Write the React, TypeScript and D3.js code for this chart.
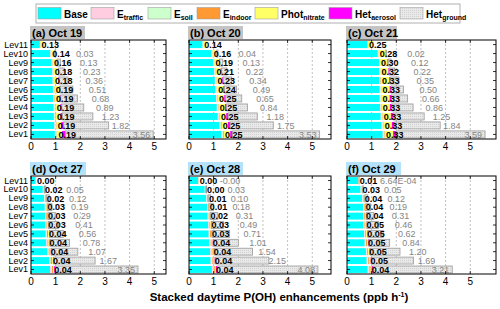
import React from "react";
import * as d3 from "d3";

const LEVELS = ["Lev1", "Lev2", "Lev3", "Lev4", "Lev5", "Lev6", "Lev7", "Lev8", "Lev9", "Lev10", "Lev11"];
const PANEL_TITLES = ["(a) Oct 19", "(b) Oct 20", "(c) Oct 21", "(d) Oct 27", "(e) Oct 28", "(f)  Oct 29"];
const X_TICKS = [0, 1, 2, 3, 4, 5];

// values per panel (a..f), each listed Lev1..Lev11
const baseVals = [
  [0.97, 0.95, 0.93, 0.92, 0.90, 0.89, 0.88, 0.87, 0.84, 0.78, 0.36],
  [1.30, 1.22, 1.17, 1.13, 1.10, 1.08, 1.05, 1.02, 0.98, 0.92, 0.55],
  [1.45, 1.40, 1.37, 1.34, 1.33, 1.33, 1.32, 1.31, 1.30, 1.25, 0.82],
  [0.78, 0.73, 0.66, 0.62, 0.60, 0.59, 0.58, 0.56, 0.53, 0.48, 0.17],
  [0.93, 0.88, 0.86, 0.83, 0.80, 0.78, 0.76, 0.73, 0.70, 0.64, 0.37],
  [0.84, 0.80, 0.77, 0.72, 0.69, 0.67, 0.66, 0.65, 0.62, 0.55, 0.45],
];
const trafficVals = [
  [0.04, 0.04, 0.03, 0.03, 0.03, 0.03, 0.02, 0.02, 0.02, 0.02, 0.01],
  [0.05, 0.04, 0.04, 0.03, 0.03, 0.03, 0.03, 0.02, 0.02, 0.02, 0.01],
  [0.04, 0.04, 0.03, 0.03, 0.03, 0.03, 0.02, 0.02, 0.02, 0.02, 0.01],
  [0.04, 0.04, 0.03, 0.03, 0.03, 0.02, 0.02, 0.02, 0.02, 0.02, 0.01],
  [0.04, 0.04, 0.03, 0.03, 0.03, 0.03, 0.02, 0.02, 0.02, 0.02, 0.01],
  [0.04, 0.03, 0.03, 0.03, 0.03, 0.02, 0.02, 0.02, 0.02, 0.01, 0.01],
];
const soilVals = [
  [0.04, 0.03, 0.03, 0.03, 0.02, 0.02, 0.02, 0.02, 0.02, 0.01, 0.01],
  [0.04, 0.04, 0.03, 0.03, 0.03, 0.02, 0.02, 0.02, 0.02, 0.01, 0.01],
  [0.03, 0.03, 0.03, 0.02, 0.02, 0.02, 0.02, 0.02, 0.01, 0.01, 0.01],
  [0.03, 0.03, 0.03, 0.02, 0.02, 0.02, 0.02, 0.02, 0.02, 0.01, 0.01],
  [0.03, 0.03, 0.03, 0.02, 0.02, 0.02, 0.02, 0.02, 0.02, 0.01, 0.01],
  [0.03, 0.03, 0.02, 0.02, 0.02, 0.02, 0.02, 0.02, 0.01, 0.01, 0.01],
];
const indoorVals = [
  [0.02, 0.02, 0.02, 0.02, 0.02, 0.02, 0.01, 0.01, 0.01, 0.01, 0.01],
  [0.03, 0.03, 0.02, 0.02, 0.02, 0.02, 0.02, 0.02, 0.01, 0.01, 0.01],
  [0.02, 0.02, 0.02, 0.02, 0.02, 0.02, 0.02, 0.01, 0.01, 0.01, 0.01],
  [0.05, 0.05, 0.04, 0.04, 0.04, 0.03, 0.03, 0.03, 0.03, 0.02, 0.01],
  [0.05, 0.05, 0.04, 0.04, 0.04, 0.04, 0.03, 0.03, 0.03, 0.02, 0.01],
  [0.05, 0.05, 0.04, 0.04, 0.04, 0.04, 0.03, 0.03, 0.03, 0.02, 0.01],
];
const photVals = [
  [0.19, 0.19, 0.19, 0.19, 0.19, 0.19, 0.18, 0.18, 0.16, 0.14, 0.13],
  [0.25, 0.25, 0.25, 0.25, 0.25, 0.24, 0.23, 0.21, 0.19, 0.16, 0.14],
  [0.33, 0.33, 0.33, 0.33, 0.33, 0.33, 0.33, 0.32, 0.30, 0.28, 0.25],
  [0.04, 0.04, 0.04, 0.04, 0.04, 0.03, 0.03, 0.03, 0.02, 0.02, 0.00],
  [0.04, 0.04, 0.04, 0.04, 0.03, 0.03, 0.02, 0.01, 0.01, 0.00, 0.00],
  [0.04, 0.05, 0.05, 0.05, 0.05, 0.05, 0.04, 0.04, 0.04, 0.03, 0.01],
];
const aerosolVals = [
  [0.14, 0.10, 0.08, 0.06, 0.05, 0.04, 0.03, 0.02, 0.01, 0.00, 0.00],
  [0.10, 0.09, 0.08, 0.07, 0.06, 0.05, 0.04, 0.03, 0.02, 0.01, 0.00],
  [0.14, 0.12, 0.10, 0.08, 0.07, 0.06, 0.05, 0.04, 0.03, 0.01, 0.00],
  [0.05, 0.04, 0.03, 0.03, 0.02, 0.01, 0.01, 0.00, 0.00, 0.00, 0.00],
  [0.06, 0.05, 0.04, 0.03, 0.02, 0.01, 0.01, 0.00, 0.00, 0.00, 0.00],
  [0.06, 0.05, 0.04, 0.03, 0.02, 0.01, 0.01, 0.00, 0.00, 0.00, 0.00],
];
const groundVals: (number | null)[][] = [
  [3.56, 1.82, 1.23, 0.89, 0.68, 0.51, 0.36, 0.23, 0.13, 0.03, null],
  [3.53, 1.75, 1.18, 0.84, 0.65, 0.49, 0.34, 0.22, 0.13, 0.04, null],
  [3.59, 1.84, 1.25, 0.86, 0.66, 0.50, 0.35, 0.22, 0.12, 0.02, null],
  [3.35, 1.67, 1.07, 0.78, 0.56, 0.41, 0.29, 0.19, 0.12, 0.05, null],
  [4.08, 2.15, 1.54, 1.01, 0.71, 0.49, 0.31, 0.18, 0.10, 0.03, -0.001],
  [3.21, 1.69, 1.20, 0.84, 0.62, 0.46, 0.31, 0.19, 0.12, 0.05, 0.000664],
];

const SERIES = [
  { key: "Base", sub: "", color: "#00ffff", vals: baseVals },
  { key: "E", sub: "traffic", color: "#ffcce0", vals: trafficVals },
  { key: "E", sub: "soil", color: "#ccffcc", vals: soilVals },
  { key: "E", sub: "indoor", color: "#ff9933", vals: indoorVals },
  { key: "Phot", sub: "nitrate", color: "#ffff66", vals: photVals },
  { key: "Het", sub: "aerosol", color: "#ff00ff", vals: aerosolVals },
];

const FONT = "Arial, 'Liberation Sans', Helvetica, sans-serif";
const PX_PER_UNIT = 24.65;
const COLS = [
  { x0: 31, x1: 166 },
  { x0: 189, x1: 331 },
  { x0: 347, x1: 496 },
];
const ROWS = [
  { top: 40, bottom: 139, titleFill: "#c4c4c4" },
  { top: 176, bottom: 274, titleFill: "#b4e2fa" },
];
const TITLE_W = [55, 55, 51, 56, 55, 55];

function fmtGround(v: number) {
  if (v !== 0 && Math.abs(v) < 0.005 && v > 0) {
    const [m, e] = v.toExponential(2).split("e");
    const ex = parseInt(e, 10);
    const sign = ex < 0 ? "-" : "+";
    return `${m}E${sign}${String(Math.abs(ex)).padStart(2, "0")}`;
  }
  return v.toFixed(2);
}

function Panel({ idx }: { idx: number }) {
  const col = COLS[idx % 3];
  const row = ROWS[Math.floor(idx / 3)];
  const x = d3.scaleLinear().domain([0, 5]).range([col.x0, col.x0 + 5 * PX_PER_UNIT]);
  const y = d3
    .scaleBand<string>()
    .domain([...LEVELS].reverse())
    .range([row.top, row.bottom])
    .paddingInner(0.22)
    .paddingOuter(0.12);
  const bh = y.bandwidth();
  const showY = idx % 3 === 0;

  return (
    <g>
      {/* title */}
      <rect x={col.x0 - 1} y={row.top - 14} width={TITLE_W[idx]} height={13} fill={row.titleFill} />
      <text x={col.x0 + 1} y={row.top - 3.5} fontSize={11} fontWeight="bold" fontFamily={FONT}>
        {PANEL_TITLES[idx]}
      </text>
      {/* grid */}
      {X_TICKS.slice(1).map((t) => (
        <line key={t} x1={x(t)} x2={x(t)} y1={row.top} y2={row.bottom} stroke="#b0b0b0" strokeDasharray="2,2" strokeWidth={0.8} />
      ))}
      {/* bars */}
      {LEVELS.map((lev, li) => {
        const yy = y(lev)!;
        let cum = 0;
        const segs = SERIES.map((s, si) => {
          const v = s.vals[idx][li];
          const x0 = cum;
          cum += v;
          return (
            <rect key={si} x={x(x0)} y={yy} width={Math.max(0, x(cum) - x(x0))} height={bh} fill={s.color} />
          );
        });
        const photStart = baseVals[idx][li] + trafficVals[idx][li] + soilVals[idx][li] + indoorVals[idx][li];
        const gStart = cum;
        const g = groundVals[idx][li];
        const gv = g === null ? 0 : Math.max(0, g);
        const gEnd = gStart + gv;
        let glabel = null;
        if (g !== null) {
          if (g > 3) {
            glabel = (
              <text x={x(gEnd) - 3} y={yy + bh / 2 + 3.2} textAnchor="end" fontSize={9} fill="#858585" fontFamily={FONT}>
                {fmtGround(g)}
              </text>
            );
          } else {
            glabel = (
              <text x={x(gStart + 0.85 + 0.6 * Math.max(0, g))} y={yy + bh / 2 + 3.2} fontSize={9} fill="#858585" fontFamily={FONT}>
                {fmtGround(g)}
              </text>
            );
          }
        }
        return (
          <g key={lev}>
            {segs}
            {gv > 0 && (
              <rect x={x(gStart)} y={yy} width={x(gEnd) - x(gStart)} height={bh} fill="url(#dots)" stroke="#9a9a9a" strokeWidth={0.8} />
            )}
            <text x={x(photStart) + 1} y={yy + bh / 2 + 3.2} fontSize={9} fontWeight="bold" fontFamily={FONT} fill="#000">
              {photVals[idx][li].toFixed(2)}
            </text>
            {glabel}
            {/* y ticks */}
            <line x1={col.x0} x2={col.x0 + 3} y1={yy + bh / 2} y2={yy + bh / 2} stroke="#000" strokeWidth={0.8} />
            <line x1={col.x1 - 3} x2={col.x1} y1={yy + bh / 2} y2={yy + bh / 2} stroke="#000" strokeWidth={0.8} />
            {showY && (
              <text x={col.x0 - 3} y={yy + bh / 2 + 3} textAnchor="end" fontSize={9} fontFamily={FONT}>
                {lev}
              </text>
            )}
          </g>
        );
      })}
      {/* frame */}
      <rect x={col.x0} y={row.top} width={col.x1 - col.x0} height={row.bottom - row.top} fill="none" stroke="#000" strokeWidth={1} />
      {X_TICKS.map((t) => (
        <g key={t}>
          <line x1={x(t)} x2={x(t)} y1={row.bottom} y2={row.bottom - 3} stroke="#000" strokeWidth={0.8} />
          <line x1={x(t)} x2={x(t)} y1={row.top} y2={row.top + 3} stroke="#000" strokeWidth={0.8} />
          <text x={x(t)} y={row.bottom + 11} textAnchor="middle" fontSize={10} fontFamily={FONT}>
            {t}
          </text>
        </g>
      ))}
    </g>
  );
}

const LEGEND_X = [38, 91, 148, 197, 255, 329, 400];

export default function App() {
  const legendItems = [
    ...SERIES.map((s) => ({ key: s.key, sub: s.sub, color: s.color, pat: false })),
    { key: "Het", sub: "ground", color: "#e0e0e0", pat: true },
  ];
  return (
    <svg width={500} height={309} style={{ position: "absolute", left: 0, top: 0, background: "#fff" }} fontFamily={FONT}>
      <defs>
        <pattern id="dots" width={2} height={2} patternUnits="userSpaceOnUse">
          <rect width={2} height={2} fill="#e9e9e9" />
          <rect width={1} height={1} fill="#d2d2d2" />
        </pattern>
      </defs>
      <rect x={0} y={0} width={500} height={309} fill="#fff" />
      {/* legend */}
      <rect x={36} y={4} width={424} height={19} fill="#fff" stroke="#b0b0b0" strokeWidth={1} />
      {legendItems.map((it, i) => (
        <g key={i}>
          <rect x={LEGEND_X[i]} y={7.5} width={23} height={11.5} fill={it.pat ? "url(#dots)" : it.color} stroke="#a0a0a0" strokeWidth={0.6} />
          <text x={LEGEND_X[i] + 26} y={18} fontSize={10} fontWeight="bold" fontFamily={FONT}>
            {it.key}
            {it.sub && (
              <tspan fontSize={7} dy={2}>
                {it.sub}
              </tspan>
            )}
          </text>
        </g>
      ))}
      {[0, 1, 2, 3, 4, 5].map((i) => (
        <Panel key={i} idx={i} />
      ))}
      <text x={279} y={301} textAnchor="middle" fontSize={11.5} fontWeight="bold" fontFamily={FONT}>
        Stacked daytime P(OH) enhancements (ppb h
        <tspan fontSize={7} dy={-4}>-1</tspan>
        <tspan dy={4}>)</tspan>
      </text>
    </svg>
  );
}
